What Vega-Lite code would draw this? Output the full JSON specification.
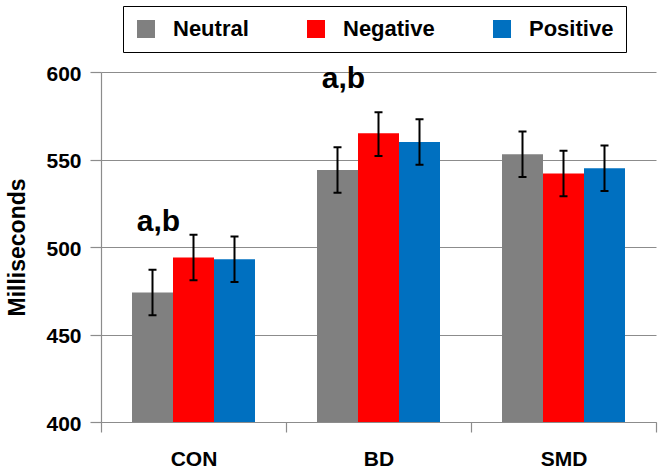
{
  "$schema": "https://vega.github.io/schema/vega-lite/v6.json",
  "width": 555,
  "height": 350,
  "autosize": {"type": "none"},
  "padding": {"left": 101, "top": 72, "right": 6, "bottom": 49},
  "background": "white",
  "config": {
    "view": {"stroke": null},
    "font": "Liberation Sans",
    "axisY": {
      "grid": true, "gridColor": "#8c8c8c", "gridWidth": 1,
      "domainColor": "#8c8c8c", "domainWidth": 1.2,
      "tickColor": "#8c8c8c", "tickSize": 11, "tickWidth": 1.2,
      "labelFontSize": 21, "labelFontWeight": "bold", "labelColor": "black", "labelPadding": 9, "labelOffset": 2,
      "titleFontSize": 23, "titleFontWeight": "bold", "titleColor": "black", "titlePadding": 16,
      "tickCount": 5
    },
    "axisX": {
      "grid": false,
      "domainColor": "#8c8c8c", "domainWidth": 1.2,
      "tickColor": "#8c8c8c", "tickSize": 10, "tickWidth": 1.2, "tickBand": "extent",
      "labelFontSize": 21, "labelFontWeight": "bold", "labelColor": "black", "labelPadding": 16, "labelAngle": 0
    }
  },
  "data": {
    "values": [
      {"group": "CON", "cond": "Neutral", "mean": 474, "lo": 461, "hi": 487},
      {"group": "CON", "cond": "Negative", "mean": 494, "lo": 481, "hi": 507},
      {"group": "CON", "cond": "Positive", "mean": 493, "lo": 480, "hi": 506},
      {"group": "BD", "cond": "Neutral", "mean": 544, "lo": 531, "hi": 557},
      {"group": "BD", "cond": "Negative", "mean": 565, "lo": 552, "hi": 577},
      {"group": "BD", "cond": "Positive", "mean": 560, "lo": 547, "hi": 573},
      {"group": "SMD", "cond": "Neutral", "mean": 553, "lo": 540, "hi": 566},
      {"group": "SMD", "cond": "Negative", "mean": 542, "lo": 529, "hi": 555},
      {"group": "SMD", "cond": "Positive", "mean": 545, "lo": 532, "hi": 558}
    ]
  },
  "encoding": {
    "x": {
      "field": "group", "type": "nominal", "sort": ["CON", "BD", "SMD"],
      "scale": {"paddingInner": 0, "paddingOuter": 0},
      "title": null
    },
    "xOffset": {
      "field": "cond", "type": "nominal", "sort": ["Neutral", "Negative", "Positive"],
      "scale": {"paddingInner": 0, "paddingOuter": 0.756}
    }
  },
  "layer": [
    {
      "mark": {"type": "bar"},
      "encoding": {
        "y": {"field": "mean", "type": "quantitative", "scale": {"domain": [400, 600]}, "title": "Milliseconds"},
        "y2": {"datum": 400},
        "color": {
          "field": "cond", "type": "nominal",
          "scale": {"domain": ["Neutral", "Negative", "Positive"], "range": ["#808080", "#FF0000", "#0070C0"]},
          "legend": {
            "orient": "none", "legendX": 22, "legendY": -66, "direction": "horizontal",
            "title": null, "symbolType": "square", "symbolSize": 324, "symbolStrokeWidth": 0, "symbolOpacity": 1,
            "labelFontSize": 22, "labelFontWeight": "bold", "labelFont": "Liberation Sans", "labelColor": "black",
            "labelOffset": 16, "columnPadding": 56, "padding": 12,
            "strokeColor": "black", "fillColor": "white"
          }
        }
      }
    },
    {
      "mark": {"type": "rule", "color": "black", "strokeWidth": 2},
      "encoding": {
        "y": {"field": "lo", "type": "quantitative", "scale": {"domain": [400, 600]}, "title": "Milliseconds"},
        "y2": {"field": "hi"}
      }
    },
    {
      "mark": {"type": "tick", "color": "black", "size": 8, "thickness": 2, "orient": "horizontal", "opacity": 1},
      "encoding": {
        "y": {"field": "lo", "type": "quantitative", "scale": {"domain": [400, 600]}, "title": "Milliseconds"}
      }
    },
    {
      "mark": {"type": "tick", "color": "black", "size": 8, "thickness": 2, "orient": "horizontal", "opacity": 1},
      "encoding": {
        "y": {"field": "hi", "type": "quantitative", "scale": {"domain": [400, 600]}, "title": "Milliseconds"}
      }
    },
    {
      "data": {
        "values": [
          {"group": "CON", "cond": "Neutral", "label": "a,b", "ypos": 509},
          {"group": "BD", "cond": "Neutral", "label": "a,b", "ypos": 591}
        ]
      },
      "mark": {"type": "text", "fontSize": 30, "fontWeight": "bold", "baseline": "alphabetic", "align": "center", "dx": 6, "color": "black"},
      "encoding": {
        "y": {"field": "ypos", "type": "quantitative", "scale": {"domain": [400, 600]}, "title": "Milliseconds"},
        "text": {"field": "label"}
      }
    }
  ]
}
